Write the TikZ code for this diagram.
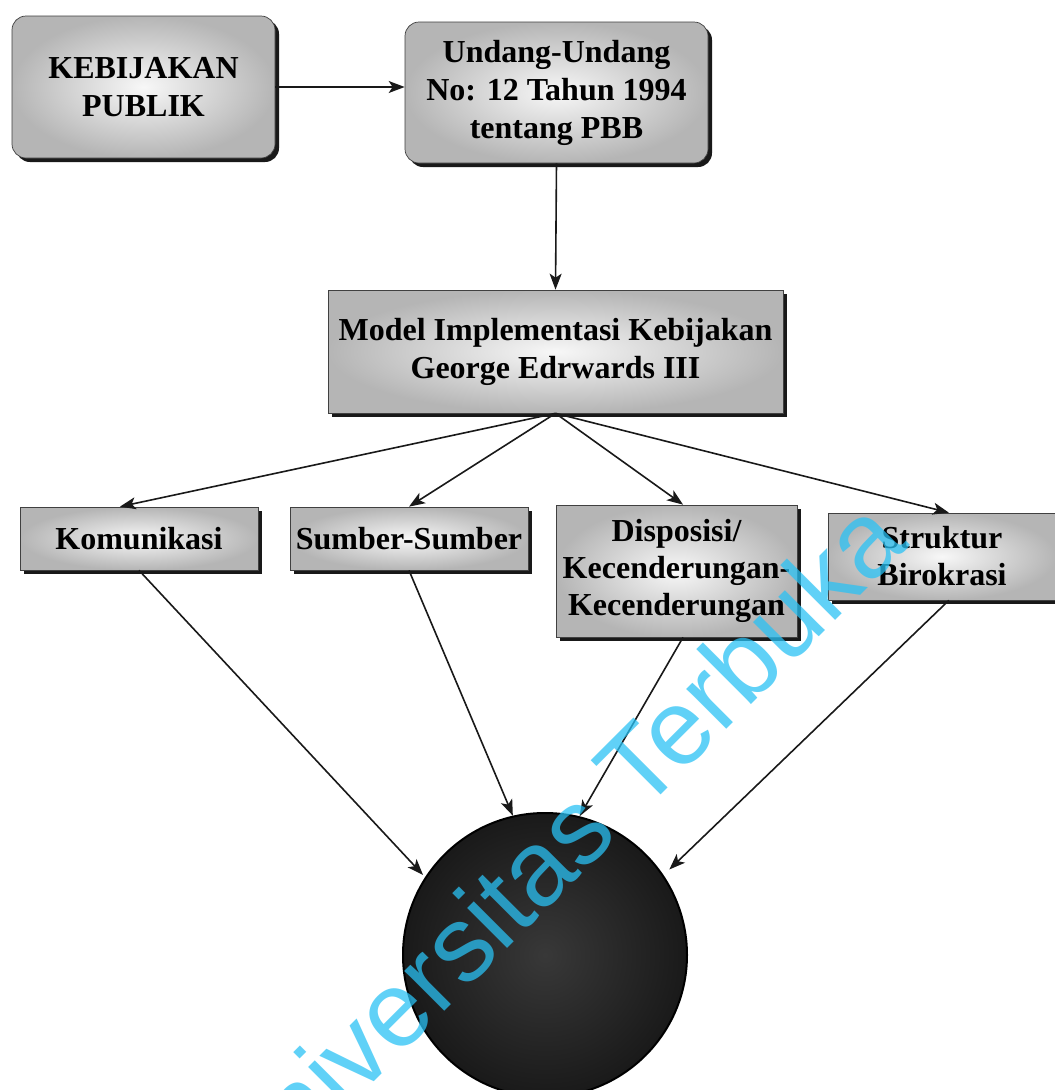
\documentclass[tikz,border=0pt]{standalone}
\usepackage{fontspec}
\setmainfont{Liberation Serif}
\newfontfamily\wmfont{Liberation Sans}
\usetikzlibrary{shadows,arrows.meta,calc}
\definecolor{wm}{rgb}{0.16,0.76,0.96}
\tikzset{
  box/.style={draw=black!75, line width=0.7pt, shading=radial, inner color=gray!6, outer color=gray!58,
    drop shadow={shadow xshift=4pt, shadow yshift=-4pt, fill=black, opacity=0.9},
    font=\fontsize{32}{38}\selectfont\bfseries, align=center, inner sep=0pt},
  rbox/.style={box, rounded corners=14pt},
  arr/.style={-{Stealth[length=16pt,width=12pt,inset=4pt]}, line width=1.6pt, black!90},
}
\begin{document}
\begin{tikzpicture}[x=1pt,y=-1pt]
\useasboundingbox[fill=white] (0,0) rectangle (1055,1090);

\node[rbox, minimum width=263pt, minimum height=142pt] (kb) at (143.5,87) {KEBIJAKAN\\PUBLIK};
\node[rbox, minimum width=303pt, minimum height=141pt] (ud) at (556.5,92.5) {Undang-Undang\\No: 12 Tahun 1994\\tentang PBB};
\node[box, minimum width=455pt, minimum height=123pt] (md) at (555.5,351.5) {Model Implementasi Kebijakan\\George Edrwards III};

\node[box, minimum width=238pt, minimum height=63pt] (km) at (139,538.5) {Komunikasi};
\node[box, minimum width=238pt, minimum height=63pt] (sb) at (409,538.5) {Sumber-Sumber};
\node[box, minimum width=241pt, minimum height=132pt, font=\fontsize{32}{37}\selectfont\bfseries] (ds) at (676.5,571) {Disposisi/\\Kecenderungan-\\Kecenderungan};
\node[box, minimum width=228pt, minimum height=87pt, font=\fontsize{32}{37}\selectfont\bfseries] (st) at (942,556.5) {Struktur\\Birokrasi};

\node[circle, draw=black, line width=2pt, shading=radial, inner color=black!78, outer color=black!90, minimum size=284pt] (cr) at (545,955) {};

\draw[arr] (kb.east) -- (kb.east -| ud.west);
\draw[arr] (ud.south) -- (md.north);

\draw[arr] (md.south) -- ($(km.north west)!0.42!(km.north east)$);
\draw[arr] (md.south) -- (sb.north);
\draw[arr] (md.south) -- ($(ds.north west)!0.527!(ds.north east)$);
\draw[arr] (md.south) -- ($(st.north west)!0.53!(st.north east)$);

\draw[arr, shorten >=3pt] (km.south) -- (cr.147);
\draw[arr] (sb.south) -- (cr.103);
\draw[arr] ($(ds.south west)!0.527!(ds.south east)$) -- (cr.76);
\draw[arr, shorten >=8pt] ($(st.south west)!0.53!(st.south east)$) -- (cr.34);

\node[rotate=45, anchor=base east, text=wm, opacity=0.74, inner sep=0pt,
  font=\wmfont\fontsize{107}{107}\selectfont] (wmk) at (911,545) {Universitas Terbuka};
\end{tikzpicture}
\end{document}
